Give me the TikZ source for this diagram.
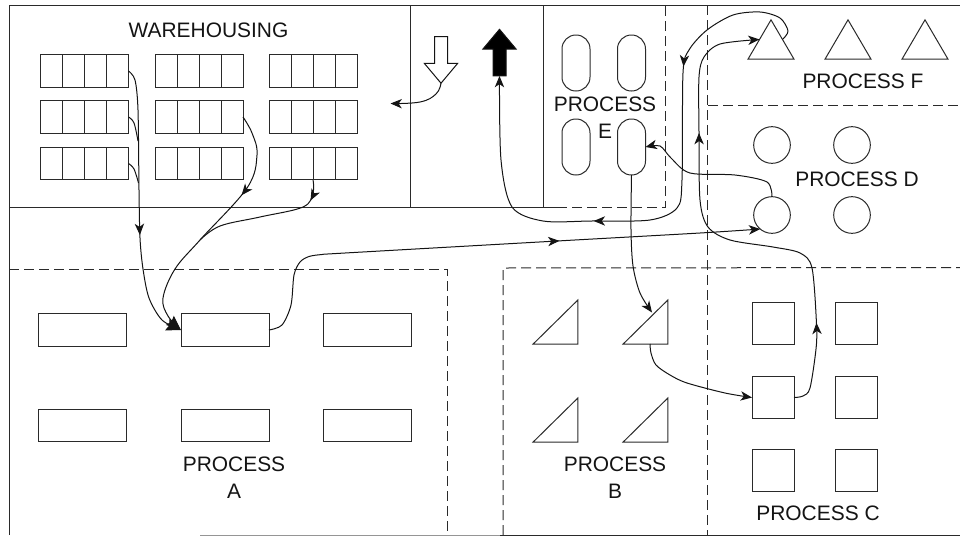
\documentclass[tikz,border=0pt]{standalone}
\usepackage{fontspec}
\setmainfont{Liberation Sans}
\usetikzlibrary{arrows.meta, calc, decorations.markings, shapes.arrows}
\definecolor{InkLine}{HTML}{141414}
\definecolor{InkFrame}{HTML}{2A2A2A}
\tikzset{
  tipFlow/.tip={Stealth[length=8.5pt,width=7pt,inset=2.4pt]},
  tipBig/.tip={Stealth[length=11pt,width=9pt,inset=1.5pt]},
  frameline/.style={draw=InkFrame, line width=0.75pt},
  zoneline/.style={draw=InkFrame, line width=0.75pt, dash pattern=on 7.5pt off 3.75pt},
  boxbase/.style={draw=InkFrame, line width=0.75pt, inner sep=0pt, outer sep=0pt},
  rackbox/.style={boxbase, minimum width=66pt, minimum height=24.5pt},
  machbox/.style={boxbase, minimum width=66pt, minimum height=24.5pt},
  squarebox/.style={boxbase, minimum width=31.5pt, minimum height=31.5pt},
  circbox/.style={boxbase, circle, minimum size=27.5pt},
  ovalbox/.style={boxbase, minimum width=21pt, minimum height=42pt, rounded corners=10.4pt},
  tribox/.style={inner sep=0pt, outer sep=0pt, minimum width=34.5pt, minimum height=29.5pt,
    append after command={\pgfextra{\draw[InkFrame, line width=0.75pt, line join=miter]
      (\tikzlastnode.south west) -- (\tikzlastnode.south east) -- (\tikzlastnode.north) -- cycle;}}},
  rampbox/.style={inner sep=0pt, outer sep=0pt, minimum width=33.5pt, minimum height=33pt,
    append after command={\pgfextra{\draw[InkFrame, line width=0.75pt, line join=miter]
      (\tikzlastnode.south west) -- (\tikzlastnode.south east) -- (\tikzlastnode.north east) -- cycle;}}},
  bigarrow/.style={single arrow, inner sep=4.5pt, outer sep=0pt,
    minimum height=35pt, single arrow head extend=7.6pt,
    single arrow tip angle=80, line width=0.75pt, draw=InkLine},
  proclabel/.style={font=\fontsize{15.7}{20.2}\selectfont, align=center, inner sep=0pt, text=InkLine},
  flow/.style={draw=InkLine, line width=0.75pt, line join=round},
  midtip/.style={postaction={decorate, decoration={markings, mark=at position #1 with {\arrow{tipFlow}}}}},
}
\begin{document}
\begin{tikzpicture}[x=0.75pt, y=-0.75pt]
  \useasboundingbox (0,0) rectangle (960,536);

  \draw[frameline] (9,535) -- (9,5) -- (960,5);
  \draw[draw=InkFrame!50, line width=0.75pt] (200,535) -- (500,535);
  \draw[frameline] (500,535) -- (960,535);
  \draw[frameline] (9,207) -- (557,207);
  \draw[frameline] (410,5) -- (410,207);
  \draw[frameline] (543,5) -- (543,207);
  \draw[zoneline] (557,207) -- (665.5,207) -- (665.5,5);
  \draw[zoneline] (707,5) -- (707,535);
  \draw[zoneline] (708,105) -- (960,105);
  \draw[zoneline] (9,269) -- (447,269) -- (447,535);
  \draw[zoneline] (503,535) -- (503,268) -- (960,267.5);

  \foreach \col/\x in {1/84.5, 2/199, 3/313}
    \foreach \row/\y in {1/71, 2/117, 3/163.5} {
      \node[rackbox] (rack\col\row) at (\x,\y) {};
      \foreach \k in {1,2,3}
        \draw[frameline] ($(rack\col\row.north west)!\k/4!(rack\col\row.north east)$)
          -- ($(rack\col\row.south west)!\k/4!(rack\col\row.south east)$);
    }

  \foreach \col/\x in {1/82.5, 2/225, 3/367}
    \foreach \row/\y in {1/330, 2/425.5}
      \node[machbox] (machA\col\row) at (\x,\y) {};

  \foreach \col/\x in {1/555.5, 2/645.5}
    \foreach \row/\y in {1/322, 2/420}
      \node[rampbox] (rampB\col\row) at (\x,\y) {};

  \foreach \col/\x in {1/773, 2/856}
    \foreach \row/\y in {1/323.5, 2/397.5, 3/470.5}
      \node[squarebox] (squareC\col\row) at (\x,\y) {};

  \foreach \col/\x in {1/772, 2/852}
    \foreach \row/\y in {1/145, 2/215}
      \node[circbox] (circD\col\row) at (\x,\y) {};

  \foreach \col/\x in {1/576, 2/631.5}
    \foreach \row/\y in {1/63, 2/147}
      \node[ovalbox] (ovalE\col\row) at (\x,\y) {};

  \foreach \col/\x in {1/771, 2/848, 3/925}
    \node[tribox] (triF\col) at (\x,39.5) {};

  \node[bigarrow, shape border rotate=270, fill=white] (inflow) at (441,56) {};
  \node[bigarrow, shape border rotate=90, fill=black] (outflow) at (499.5,56.5) {};

  \node[proclabel] (labelW) at (208.5,30) {WAREHOUSING};
  \node[proclabel] (labelA) at (234,477.5) {PROCESS\\A};
  \node[proclabel] (labelB) at (615,477.5) {PROCESS\\B};
  \node[proclabel] (labelC) at (818,513) {PROCESS C};
  \node[proclabel] (labelD) at (857,179) {PROCESS D};
  \node[proclabel] (labelE) at (605,117.5) {PROCESS\\E};
  \node[proclabel] (labelF) at (863,81) {PROCESS F};

  \coordinate (dockEnd) at (390.5,103.5);
  \coordinate (triIn) at ($(triF1.north)!0.5!(triF1.south west)$);
  \coordinate (triOut) at ($(triF1.north)!0.5!(triF1.south east)$);
  \coordinate (rampIn) at ($(rampB21)+(6.5,-9.5)$);
  \coordinate (rampOut) at ($(rampB21.south)+(4.5,0)$);
  \coordinate (joinA) at (138,141);
  \coordinate (joinB) at (138.5,183);
  \coordinate (joinC) at (200,240);

  \draw[flow, -{tipBig}, midtip=0.6] plot[smooth, tension=0.5] coordinates
    {(rack11.east) (135,80) (138,110) (139,190) (140,238) (143,269) (149,298) (162,320) (machA21.west)};
  \draw[flow] plot[smooth, tension=0.6] coordinates {(rack12.east) (134,123) (joinA)};
  \draw[flow] plot[smooth, tension=0.6] coordinates {(rack13.east) (134,169) (joinB)};
  \draw[flow, -{tipBig}, midtip=0.335] plot[smooth, tension=0.6] coordinates
    {(rack22.east) (252,133) (257,155) (247,188) (joinC) (175,269) (163,298) (168,316) (machA21.west)};
  \draw[flow, midtip=0.15] plot[smooth, tension=0.6] coordinates
    {(rack33.south) (313,193) (303,207) (260,217) (220,226) (joinC)};
  \draw[flow, -{tipFlow}, midtip=0.63] plot[smooth, tension=0.5] coordinates
    {(machA21.east) (282,325) (291,305) (294,275) (300,262) (309,256.5) (322,254.5) (345,253)
     (557,241) (700,233) (circD12.230)};
  \draw[flow, -{tipFlow}] plot[smooth, tension=0.7] coordinates
    {(inflow.tip) (436,94) (420,102) (dockEnd)};
  \draw[flow, -{tipFlow}, midtip=0.25, midtip=0.634] plot[smooth, tension=0.5] coordinates
    {(triOut) (788,31) (780,18) (760,12) (733,15) (707,30) (689,50) (683,73) (682,180) (677,208)
     (650,220) (591,221) (543,221) (512,207) (501,160) (outflow.tail)};
  \draw[flow, -{tipFlow}] plot[smooth, tension=0.5] coordinates
    {(circD12.north) (767,182) (735,175) (690,173) (671,158) (660,146) (ovalE22.east)};
  \draw[flow, -{tipFlow}] plot[smooth, tension=0.5] coordinates
    {(ovalE22.south) (631,230) (633,266) (640,293) (rampIn)};
  \draw[flow, -{tipFlow}] plot[smooth, tension=0.5] coordinates
    {(rampOut) (651,353) (656,365) (670,375) (687,383) (725,393) (squareC12.west)};
  \draw[flow, -{tipFlow}, midtip=0.175, midtip=0.72] plot[smooth, tension=0.5] coordinates
    {(squareC12.east) (803,396) (810,388) (816,349) (816.5,324) (812,268) (800,253) (773,247) (730,240) (708,227) (700,200)
     (699,132) (699,77) (704,57) (720,44) (triIn)};
\end{tikzpicture}
\end{document}
